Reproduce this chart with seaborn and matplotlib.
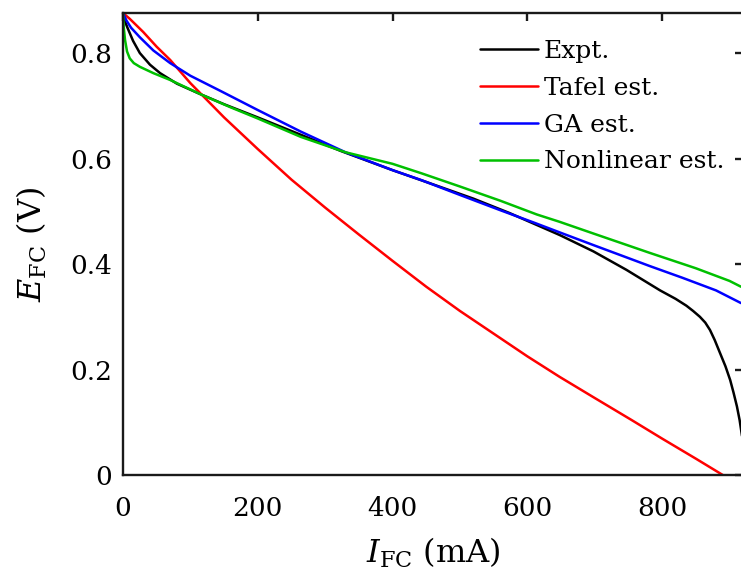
import matplotlib
matplotlib.use("Agg")
import matplotlib.pyplot as plt
import pandas as pd
import seaborn as sns

# Fuel-cell polarization curves: current (mA) vs. voltage (V)
expt_i = [0, 3, 6, 10, 15, 25, 40, 55, 80, 115, 150, 200, 264, 324, 400, 458,
          520, 573, 648, 698, 747, 797, 820, 836, 846, 856, 864, 871, 878, 886,
          894, 901, 906, 911, 915, 919]
expt_e = [0.876, 0.860, 0.850, 0.838, 0.823, 0.800, 0.778, 0.762, 0.742, 0.722,
          0.703, 0.678, 0.645, 0.614, 0.578, 0.552, 0.524, 0.497, 0.455, 0.424,
          0.389, 0.350, 0.334, 0.321, 0.311, 0.300, 0.289, 0.275, 0.256, 0.231,
          0.206, 0.180, 0.156, 0.130, 0.104, 0.070]

tafel_i = [0, 10, 30, 50, 70, 100, 150, 200, 250, 300, 350, 400, 450, 500,
           550, 600, 648, 700, 755, 800, 850, 890]
tafel_e = [0.876, 0.865, 0.840, 0.812, 0.787, 0.743, 0.678, 0.618, 0.560, 0.507,
           0.456, 0.406, 0.357, 0.311, 0.268, 0.225, 0.186, 0.146, 0.104, 0.069,
           0.031, 0.0]

ga_i = [0, 5, 12, 25, 45, 70, 100, 145, 200, 264, 330, 400, 443, 500, 560, 611,
        648, 700, 740, 782, 830, 880, 917]
ga_e = [0.876, 0.862, 0.848, 0.830, 0.805, 0.781, 0.757, 0.728, 0.692, 0.651,
        0.612, 0.578, 0.559, 0.531, 0.502, 0.478, 0.460, 0.435, 0.416, 0.396,
        0.374, 0.350, 0.326]

nl_i = [0, 1, 3, 6, 10, 16, 25, 45, 70, 115, 160, 200, 264, 330, 400, 443,
        500, 560, 614, 648, 700, 782, 850, 900, 917]
nl_e = [0.876, 0.850, 0.825, 0.803, 0.790, 0.781, 0.774, 0.762, 0.749, 0.722,
        0.697, 0.676, 0.641, 0.612, 0.590, 0.572, 0.547, 0.520, 0.494, 0.480,
        0.457, 0.421, 0.392, 0.368, 0.357]

series_names = ["Expt.", "Tafel est.", "GA est.", "Nonlinear est."]
series_colors = ["#000000", "#ff0000", "#0000ff", "#00c000"]

x_ticks = [0, 200, 400, 600, 800]
y_ticks = [0, 0.2, 0.4, 0.6, 0.8]

frames = []
for name, ii, ee in zip(series_names,
                        [expt_i, tafel_i, ga_i, nl_i],
                        [expt_e, tafel_e, ga_e, nl_e]):
    frames.append(pd.DataFrame({"I": ii, "E": ee, "series": name}))
data = pd.concat(frames, ignore_index=True)

sns.set_theme(style="white")
plt.rcParams["font.family"] = ["DejaVu Serif"]
plt.rcParams["mathtext.fontset"] = "dejavuserif"
plt.rcParams["text.color"] = "black"
plt.rcParams["axes.labelcolor"] = "black"
plt.rcParams["xtick.color"] = "black"
plt.rcParams["ytick.color"] = "black"

fig = plt.figure(figsize=(7.41, 5.76), dpi=100)
ax = fig.add_axes([123 / 741, 101 / 576, 620 / 741, 462 / 576])

sns.lineplot(data=data, x="I", y="E", hue="series", hue_order=series_names,
             palette=dict(zip(series_names, series_colors)), sort=False,
             estimator=None, linewidth=1.8, ax=ax)

ax.set_xlim(0, 920)
ax.set_ylim(0, 0.876)
ax.set_xticks(x_ticks)
ax.set_xticklabels([str(v) for v in x_ticks])
ax.set_yticks(y_ticks)
ax.set_yticklabels(["0", "0.2", "0.4", "0.6", "0.8"])

for side in ax.spines.values():
    side.set_linewidth(1.7)
    side.set_color("#1a1a1a")
ax.tick_params(direction="in", length=6, width=1.7, color="#1a1a1a",
               labelcolor="black", top=True, right=True, labelsize=19)
ax.tick_params(axis="x", pad=15)
ax.tick_params(axis="y", pad=8)

ax.set_xlabel(r"$I_{\mathrm{FC}}$ (mA)", fontsize=23, labelpad=11)
ax.set_ylabel(r"$E_{\mathrm{FC}}$ (V)", fontsize=23, labelpad=15)

leg = ax.legend(loc="upper left", frameon=False, fontsize=18,
                handlelength=2.3, handletextpad=0.25, labelspacing=0.55,
                borderaxespad=0.0, bbox_to_anchor=(0.56, 0.963))
for line in leg.get_lines():
    line.set_linewidth(1.8)

fig.savefig("out.png", dpi=100)
